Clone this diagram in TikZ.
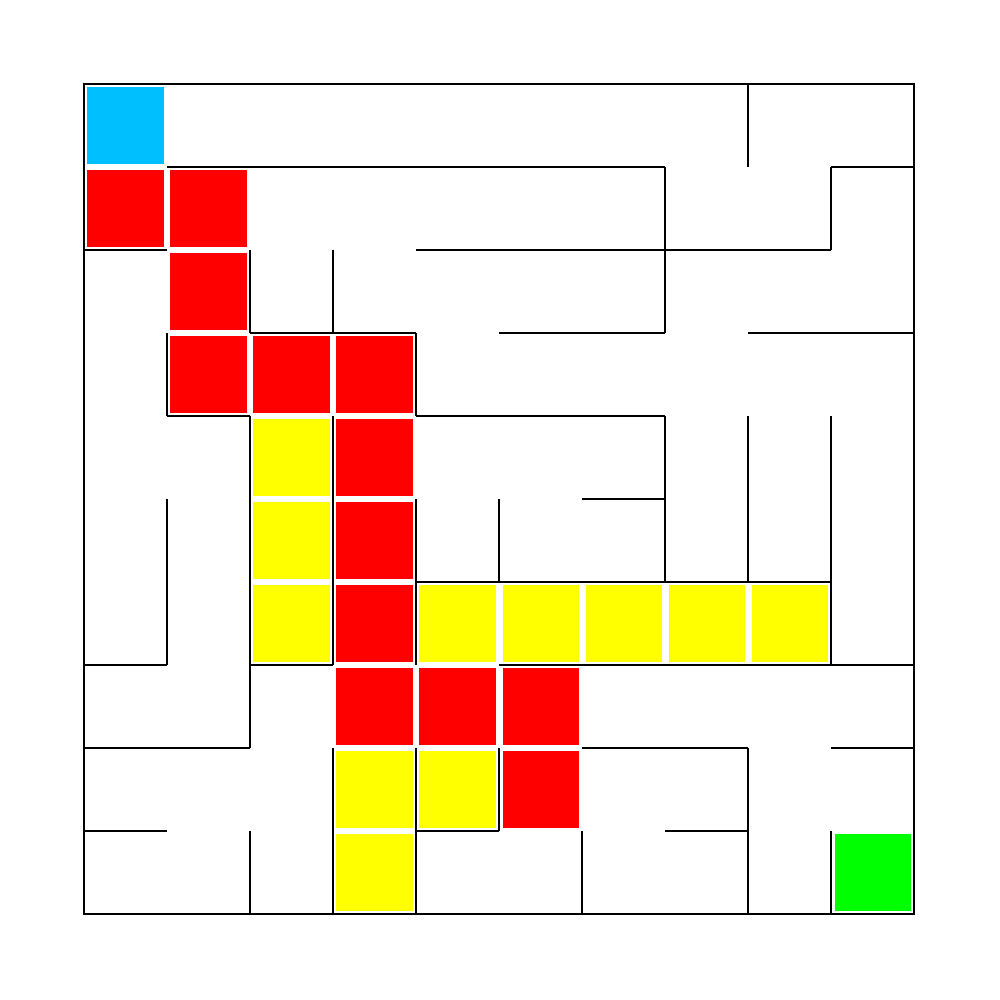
\documentclass[tikz,border=0pt]{standalone}
\begin{document}
\begin{tikzpicture}
\useasboundingbox (0,0) rectangle (10,-10);
\definecolor{startc}{RGB}{0,191,255}
\definecolor{pathc}{RGB}{255,0,0}
\definecolor{seenc}{RGB}{255,255,0}
\definecolor{goalc}{RGB}{0,255,0}
\tikzset{wall/.style={draw=black,line width=0.5pt},
  cellfill/.style={fill=#1}}
\begin{scope}[shift={(0.84,-0.84)},x=0.83cm,y=-0.83cm]
% cells
\newcommand{\mzcell}[3]{\fill[cellfill=#3] (#1+0.042,#2+0.042) rectangle (#1+0.958,#2+0.958);}
\mzcell{0}{0}{startc}
\foreach \c/\r in {0/1,1/1,1/2,1/3,2/3,3/3,3/4,3/5,3/6,3/7,4/7,5/7,5/8}{\mzcell{\c}{\r}{pathc}}
\foreach \c/\r in {2/4,2/5,2/6,4/6,5/6,6/6,7/6,8/6,3/8,4/8,3/9}{\mzcell{\c}{\r}{seenc}}
\mzcell{9}{9}{goalc}
% border
\draw[wall] (0,0) rectangle (10,10);
% horizontal walls: y / x-from / x-to
\foreach \j/\a/\b in {1/1/7,1/9/10,2/0/1,2/4/9,3/2/4,3/5/7,3/8/10,4/1/2,4/4/7,5/6/7,6/4/9,7/0/1,7/2/3,7/5/10,8/0/2,8/6/8,8/9/10,9/0/1,9/4/5,9/7/8}{\draw[wall] (\a,\j) -- (\b,\j);}
% vertical walls: x / y-from / y-to
\foreach \i/\a/\b in {1/3/4,1/5/7,2/2/3,2/4/8,2/9/10,3/2/3,3/4/7,3/8/10,4/3/4,4/5/7,4/8/10,5/5/6,5/8/9,6/9/10,7/1/3,7/4/6,8/0/1,8/4/6,8/8/10,9/1/2,9/4/7,9/9/10}{\draw[wall] (\i,\a) -- (\i,\b);}
\end{scope}
\end{tikzpicture}
\end{document}
